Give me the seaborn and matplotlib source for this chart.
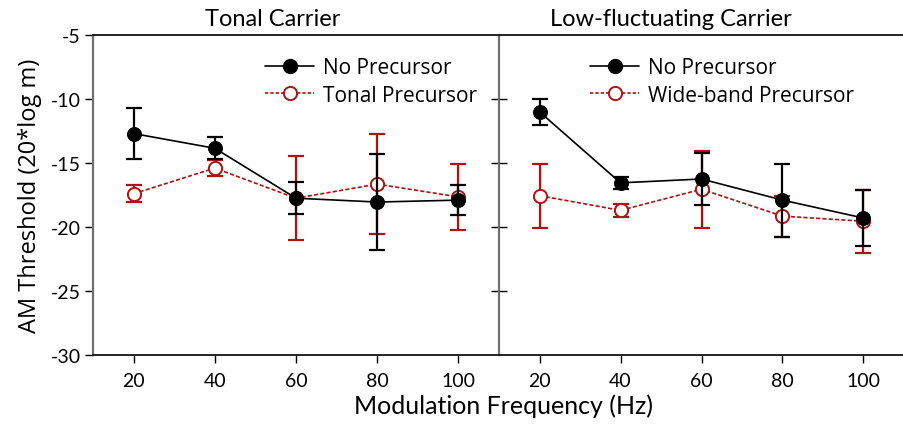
import matplotlib
matplotlib.use("Agg")
import matplotlib.pyplot as plt
import seaborn as sns
import pandas as pd
from matplotlib.lines import Line2D

# Modulation frequencies (Hz)
freqs = [20, 40, 60, 80, 100]

# Tonal carrier panel
tonal_none = [-12.7, -13.85, -17.75, -18.05, -17.9]
tonal_none_err = [2.0, 0.85, 1.25, 3.75, 1.15]
tonal_prec = [-17.4, -15.4, -17.75, -16.65, -17.65]
tonal_prec_err = [0.65, 0.65, 3.3, 3.9, 2.6]

# Low-fluctuating carrier panel
lowf_none = [-11.0, -16.55, -16.25, -17.9, -19.3]
lowf_none_err = [1.0, 0.45, 2.0, 2.85, 2.2]
lowf_prec = [-17.55, -18.7, -17.05, -19.15, -19.55]
lowf_prec_err = [2.5, 0.5, 3.0, 1.6, 2.45]

titles = ["Tonal Carrier", "Low-fluctuating Carrier"]
prec_labels = ["Tonal Precursor", "Wide-band Precursor"]
y_ticks = [-30, -25, -20, -15, -10, -5]

sns.set_theme(style="white")
narrow = ["Lato", "DejaVu Sans"]
regular = ["Open Sans", "DejaVu Sans"]
plt.rcParams["font.family"] = narrow
for key in ["text.color", "axes.labelcolor", "xtick.color", "ytick.color"]:
    plt.rcParams[key] = "black"

RED = "#b01212"
BLACK = "#000000"
GRAY = "#707070"

fig = plt.figure(figsize=(9.04, 4.31), dpi=100)
x0, x1, x2 = 93 / 904, 499 / 904, 1.0
y_bot, y_top = 1 - 356 / 431, 1 - 36 / 431
ax_l = fig.add_axes([x0, y_bot, x1 - x0, y_top - y_bot])
ax_r = fig.add_axes([x1, y_bot, x2 - x1, y_top - y_bot])

panels = [
    (ax_l, tonal_none, tonal_none_err, tonal_prec, tonal_prec_err),
    (ax_r, lowf_none, lowf_none_err, lowf_prec, lowf_prec_err),
]
title_x = [0.443, 0.425]
legend_x = [0.424, 0.225]

for i, (ax, none, none_err, prec, prec_err) in enumerate(panels):
    df = pd.DataFrame({
        "freq": freqs * 2,
        "thr": none + prec,
        "cond": ["No Precursor"] * 5 + [prec_labels[i]] * 5,
    })
    # precursor series (drawn underneath)
    ax.errorbar(freqs, prec, yerr=prec_err, fmt="none", ecolor=RED,
                elinewidth=1.6, capsize=5.5, capthick=1.6, zorder=2)
    sns.lineplot(data=df[df.cond == prec_labels[i]], x="freq", y="thr", ax=ax,
                 color=RED, linestyle=(0, (2.5, 1.3)), linewidth=1.2,
                 marker="o", markersize=9.5, markerfacecolor="white",
                 markeredgecolor=RED, markeredgewidth=1.4, zorder=3,
                 legend=False)
    # no-precursor series
    ax.errorbar(freqs, none, yerr=none_err, fmt="none", ecolor=BLACK,
                elinewidth=1.6, capsize=5.5, capthick=1.6, zorder=4)
    sns.lineplot(data=df[df.cond == "No Precursor"], x="freq", y="thr", ax=ax,
                 color=BLACK, linewidth=1.2, marker="o", markersize=10,
                 markerfacecolor=BLACK, markeredgecolor=BLACK, zorder=5,
                 legend=False)

    ax.set_xlim(10, 110)
    ax.set_ylim(-30, -5)
    ax.set_xticks(freqs)
    ax.set_xticklabels([str(f) for f in freqs], fontsize=14)
    ax.set_xlabel("")
    ax.set_ylabel("")
    ax.set_title(titles[i], fontsize=17, x=title_x[i], pad=7)

    for s in ["top", "bottom"]:
        ax.spines[s].set_visible(True)
        ax.spines[s].set_color(BLACK)
        ax.spines[s].set_linewidth(1.2)
    ax.spines["right"].set_visible(False)
    ax.spines["left"].set_color(GRAY)
    ax.spines["left"].set_linewidth(1.6)
    ax.tick_params(axis="x", direction="out", length=6, width=1.0,
                   color=BLACK, bottom=True, pad=6)

    handles = [
        Line2D([], [], color=BLACK, linewidth=1.2, marker="o",
               markersize=10, markerfacecolor=BLACK),
        Line2D([], [], color=RED, linewidth=1.2, linestyle=(0, (2, 1.2)),
               marker="o", markersize=9.5, markerfacecolor="white",
               markeredgecolor=RED, markeredgewidth=1.4),
    ]
    ax.legend(handles, ["No Precursor", prec_labels[i]],
              loc="upper left", bbox_to_anchor=(legend_x[i], 0.93),
              borderaxespad=0, borderpad=0, frameon=False,
              handlelength=2.35, handletextpad=0.45, labelspacing=0.3,
              prop={"family": regular, "size": 15})

ax_l.set_yticks(y_ticks)
ax_l.set_yticklabels([str(t) for t in y_ticks], fontsize=14)
ax_l.tick_params(axis="y", direction="out", length=6, width=1.0,
                 color=BLACK, left=True, pad=3)

ax_r.set_yticks(y_ticks[1:-1])
ax_r.tick_params(axis="y", direction="inout", length=12, width=1.0,
                 color=BLACK, left=True, labelleft=False)

ax_l.set_ylabel("AM Threshold (20*log m)", fontsize=17,
                family=regular, labelpad=6)
fig.text(504 / 904, 0.03, "Modulation Frequency (Hz)",
         ha="center", va="bottom", fontsize=18)

fig.savefig("out.png", dpi=100)
